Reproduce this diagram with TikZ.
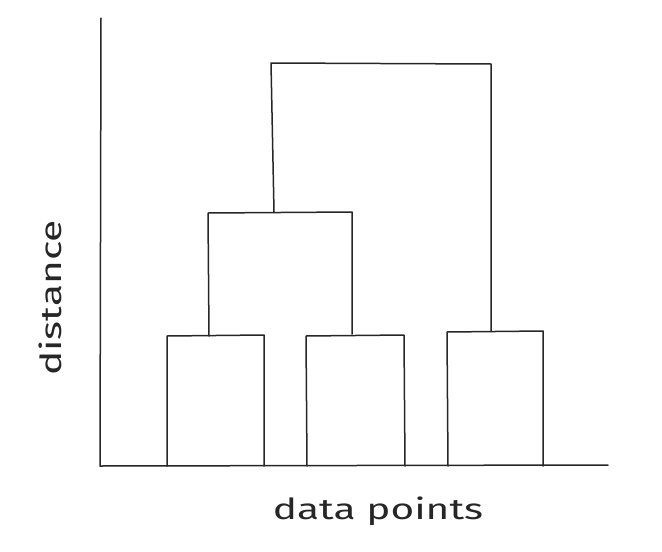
\documentclass[tikz,border=0pt]{standalone}
\usepackage{fontspec}
\setmainfont{Fira Sans}
\begin{document}
\begin{tikzpicture}[x=1pt,y=-1pt,
  ln/.style={line width=1.5pt,draw=black!85,line cap=round,line join=round},
  lbl/.style={font=\fontsize{29}{29}\selectfont,text=black!85,inner sep=0pt}]
\useasboundingbox (0,0) rectangle (662,552);
% axes
\coordinate (yt) at (101,18);
\coordinate (o) at (100,466);
\coordinate (xe) at (608,465);
\draw[ln] (yt) -- (o) -- (xe);
% leaf boxes
\draw[ln] (167,466) -- (167,336) -- (264,335) -- (264,466);
\draw[ln] (307,466) -- (306,336) -- (404,335) -- (405,466);
\draw[ln] (448,466) -- (447,332) -- (543,331) -- (543,466);
% middle bracket
\draw[ln] (209,336) -- (208,213) -- (352,212) -- (352,334);
% top bracket
\draw[ln] (274,212) -- (271,63) -- (491,64) -- (491,331);
% labels
\node[lbl,xscale=1.4] (xl) at (378,511) {data points};
\node[lbl,rotate=90,xscale=1.4] (yl) at (50,298) {distance};
\end{tikzpicture}
\end{document}
